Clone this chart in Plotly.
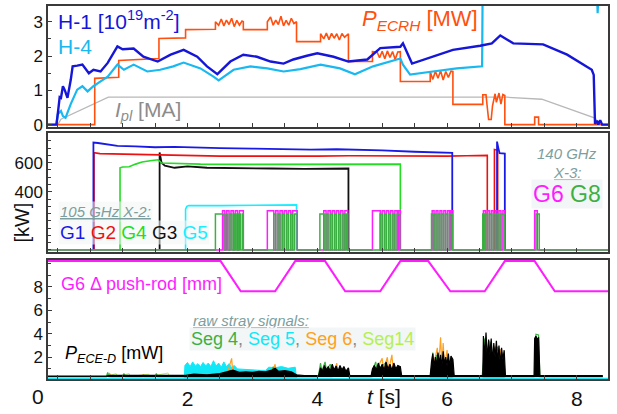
import plotly.graph_objects as go

# ---------------- data: top panel ----------------
h1_t = [-0.15, -0.02, 0.00, 0.03, 0.05, 0.08, 0.11, 0.15, 0.20, 0.23, 0.30, 0.38, 0.48, 0.55, 0.66, 0.77, 0.92, 1.00,
        1.17, 1.32, 1.54, 1.74, 1.94, 2.15, 2.30, 2.46, 2.66, 2.86, 3.07, 3.28, 3.48, 3.63, 3.84, 4.00, 4.25, 4.48,
        4.77, 4.97, 5.28, 5.32, 5.46, 5.78, 6.09, 6.51, 6.69, 6.82, 7.02, 7.48, 7.85, 8.23, 8.26, 8.28, 8.31, 8.33,
        8.36, 8.39, 8.48]
h1_v = [0.0, 0.0, 0.3, 0.8, 0.78, 1.12, 1.0, 0.78, 1.3, 1.7, 1.72, 1.75, 1.5, 1.6, 1.55, 1.8, 2.28, 2.2,
        2.22, 1.98, 1.84, 2.04, 2.18, 1.98, 1.7, 1.47, 1.84, 2.04, 1.98, 1.84, 1.78, 1.9, 2.01, 2.08, 1.98, 1.84,
        1.9, 2.23, 2.27, 2.37, 1.78, 1.98, 2.18, 2.3, 2.37, 2.6, 2.37, 2.34, 2.04, 1.6, 1.45, 0.02, 0.12, 0.0,
        0.13, 0.0, 0.0]

h4_t = [-0.02, 0.00, 0.05, 0.08, 0.12, 0.20, 0.30, 0.38, 0.46, 0.55, 0.66, 0.77, 0.92, 1.02, 1.17, 1.38, 1.58,
        1.78, 1.94, 2.20, 2.40, 2.48, 2.71, 2.97, 3.23, 3.48, 3.74, 4.05, 4.35, 4.58, 4.86, 5.12, 5.28, 5.32, 5.43,
        5.78, 6.15, 6.54, 6.55, 8.30, 8.32, 8.35, 8.48]
h4_v = [0.0, 0.3, 0.4, 0.25, 0.2, 0.6, 1.02, 1.12, 0.97, 1.12, 1.26, 1.4, 1.75, 1.6, 1.75, 1.55, 1.6,
        1.7, 1.81, 1.64, 1.4, 1.29, 1.6, 1.7, 1.64, 1.55, 1.62, 1.75, 1.64, 1.47, 1.7, 1.84, 1.93, 1.75, 1.46,
        1.55, 1.64, 1.7, 4.5, 4.5, 3.25, 4.5, 4.5]

ipl_t = [0.00, 0.05, 0.78, 6.92, 7.46, 8.28, 8.35]
ipl_v = [0.0, 0.16, 0.80, 0.80, 0.74, 0.19, 0.0]

pecrh_t = [-0.15, 0.57, 0.57, 0.94, 0.94, 1.40, 1.56, 1.56, 1.97, 1.97, 2.43, 2.43,
           2.48, 2.52, 2.56, 2.60, 2.64, 2.68, 2.72, 2.76, 2.80, 2.84, 2.86, 2.86,
           3.23, 3.23, 3.28, 3.32, 3.36, 3.40, 3.44, 3.48, 3.52, 3.56, 3.60, 3.64, 3.68, 3.68,
           4.05, 4.05, 4.10, 4.14, 4.18, 4.22, 4.26, 4.30, 4.34, 4.38, 4.42, 4.48, 4.48,
           4.85, 4.85, 4.92, 4.96, 5.00, 5.04, 5.08, 5.12, 5.16, 5.20, 5.24, 5.28, 5.28,
           5.74, 5.74, 5.78, 5.82, 5.86, 5.90, 5.94, 5.98, 6.02, 6.06, 6.09, 6.09,
           6.55, 6.55, 6.60, 6.62, 6.64, 6.68, 6.70, 6.74, 6.76, 6.80, 6.83, 6.86, 6.89, 6.89,
           7.35, 7.35, 7.41, 7.41, 8.48]
pecrh_v = [0.0, 0.0, 1.35, 1.38, 1.87, 1.93, 1.93, 2.51, 2.53, 2.77, 2.78, 3.00,
           2.90, 3.08, 2.88, 3.05, 2.92, 3.10, 2.86, 3.04, 2.90, 3.02, 3.00, 2.77,
           2.77, 3.00, 3.14, 2.90, 3.05, 2.92, 3.16, 2.88, 3.04, 2.90, 3.10, 2.95, 3.00, 2.42,
           2.42, 2.65, 2.50, 2.67, 2.48, 2.66, 2.52, 2.65, 2.47, 2.66, 2.55, 2.65, 1.84,
           1.84, 2.13, 2.12, 1.95, 2.14, 1.92, 2.15, 1.96, 2.13, 1.90, 2.12, 2.13, 1.26,
           1.26, 1.55, 1.32, 1.56, 1.35, 1.57, 1.30, 1.55, 1.38, 1.56, 1.55, 0.59,
           0.59, 0.87, 0.87, 0.50, 0.15, 0.15, 0.55, 0.90, 0.65, 0.92, 0.60, 0.88, 0.85, 0.0,
           0.0, 0.22, 0.22, 0.0, 0.0]

# ---------------- data: middle panel (kW) ----------------
g1_t = [0.55, 0.55, 0.62, 0.75, 0.92, 1.20, 1.50, 1.80, 2.10, 2.50, 3.00, 3.50, 3.90, 4.30, 4.70, 5.00, 5.50, 6.08, 6.08,
        None, 6.77, 6.77, 6.79, 6.81, 6.89, 6.89]
g1_v = [0, 738, 735, 728, 715, 712, 706, 708, 703, 700, 697, 693, 690, 692, 690, 685, 675, 668, 0,
        None, 0, 745, 700, 665, 662, 0]
g2_t = [0.56, 0.56, 0.65, 0.90, 1.30, 1.60, 2.00, 2.50, 3.00, 3.50, 4.00, 4.50, 5.00, 5.50, 6.00, 6.30, 6.62, 6.62,
        None, 6.73, 6.73, 6.78, 6.78]
g2_v = [0, 668, 662, 660, 655, 650, 648, 645, 645, 643, 645, 648, 646, 644, 645, 648, 650, 0,
        None, 0, 690, 685, 0]
g4_t = [0.96, 0.96, 1.00, 1.10, 1.20, 1.30, 1.45, 1.55, 1.60, 1.80, 2.20, 2.80, 3.50, 4.20, 4.80, 5.28, 5.28]
g4_v = [0, 565, 570, 572, 590, 605, 615, 620, 598, 595, 590, 588, 588, 590, 590, 590, 0]
g3_t = [1.57, 1.57, 1.60, 1.65, 1.80, 2.00, 2.30, 2.80, 3.30, 3.80, 4.20, 4.48, 4.48]
g3_v = [0, 670, 600, 580, 565, 575, 565, 560, 560, 558, 560, 560, 0]
g5_t = [1.97, 1.97, 1.99, 2.02, 2.50, 3.00, 3.50, 3.68, 3.68]
g5_v = [0, 280, 300, 305, 305, 308, 310, 310, 0]

g6_level = 270
g6_on = [2.54, 2.605, 2.67, 2.735, 2.80, 3.23, 3.36, 3.425, 3.49, 3.555, 3.62, 4.10, 4.165, 4.23, 4.295, 4.36, 4.425,
         4.85, 5.00, 5.065, 5.13, 5.195, 5.25, 5.77, 5.83, 5.89, 5.95, 6.01, 6.06, 6.56, 6.62, 6.68, 6.74, 6.80, 6.86,
         7.35]
g6_off = [2.575, 2.64, 2.705, 2.77, 2.86, 3.33, 3.395, 3.46, 3.525, 3.59, 3.69, 4.135, 4.20, 4.265, 4.33, 4.395, 4.47,
          4.97, 5.035, 5.10, 5.165, 5.23, 5.28, 5.80, 5.86, 5.92, 5.98, 6.04, 6.09, 6.59, 6.65, 6.71, 6.77, 6.83, 6.89,
          7.39]
g8_level = 248
g8_on = [2.43, 2.59, 2.655, 2.72, 2.785, 2.845, 3.33, 3.395, 3.46, 3.525, 3.59, 3.65, 4.04, 4.135, 4.20, 4.265, 4.33,
         4.395, 4.45, 4.97, 5.035, 5.10, 5.165, 5.23, 5.76, 5.80, 5.86, 5.92, 5.98, 6.04, 6.55, 6.59, 6.65, 6.71, 6.77,
         6.83, 7.37]
g8_off = [2.56, 2.62, 2.685, 2.75, 2.815, 2.86, 3.36, 3.425, 3.49, 3.555, 3.62, 3.69, 4.105, 4.165, 4.23, 4.295, 4.36,
          4.425, 4.47, 5.00, 5.065, 5.13, 5.195, 5.27, 5.79, 5.83, 5.89, 5.95, 6.01, 6.08, 6.58, 6.62, 6.68, 6.74, 6.80,
          6.88, 7.42]

# ---------------- data: bottom panel ----------------
pr_t = [-0.15, 2.51, 2.82, 3.35, 3.66, 4.12, 4.43, 4.97, 5.28, 5.71, 6.05, 6.58, 6.89, 7.35, 7.66, 8.48]
pr_v = [10.2, 10.2, 7.62, 7.62, 10.2, 10.2, 7.62, 7.62, 10.2, 10.2, 7.62, 7.62, 10.2, 10.2, 7.62, 7.62]

seg5 = [(-0.15, 0.2), (1.95, 0.2), (1.96, 1.3), (2.0, 1.55), (2.04, 1.2), (2.08, 1.6), (2.12, 1.25), (2.16, 1.45),
        (2.2, 1.2), (2.24, 1.55), (2.28, 1.25), (2.32, 1.5), (2.36, 1.2), (2.4, 1.7), (2.44, 1.25), (2.48, 1.5),
        (2.52, 1.15), (2.56, 1.6), (2.6, 1.2), (2.64, 1.45), (2.68, 1.1), (2.72, 1.3), (2.77, 1.0), (2.9, 0.95),
        (3.0, 0.9), (3.1, 0.9), (3.2, 0.85), (3.25, 1.15), (3.35, 1.1), (3.45, 1.2), (3.55, 1.05), (3.66, 1.15),
        (3.68, 0.2), (5.74, 0.2), (5.76, 0.6), (5.85, 0.4), (5.95, 0.6), (6.05, 0.45), (6.09, 0.2), (6.55, 0.2),
        (6.57, 0.6), (6.65, 0.45), (6.75, 0.7), (6.85, 0.5), (6.89, 0.2), (8.48, 0.2)]
seg14 = [(-0.15, 0.35), (0.75, 0.35), (0.9, 0.6), (0.92, 0.35), (1.1, 0.6), (1.12, 0.35), (1.4, 0.55), (1.42, 0.35),
         (1.7, 0.65), (1.72, 0.35), (2.2, 0.55), (2.22, 0.35), (8.4, 0.35)]
seg6 = [(-0.15, 0.35), (0.75, 0.35), (0.8, 0.6), (0.82, 0.35), (1.3, 0.35), (1.32, 0.55), (1.34, 0.35), (2.6, 0.35),
        (2.68, 1.9), (2.7, 0.5), (3.3, 0.6), (3.35, 1.4), (3.37, 0.6), (3.68, 0.35), (4.23, 0.35), (4.25, 0.5),
        (4.3, 1.5), (4.32, 0.6), (4.48, 0.35), (4.85, 0.35), (4.9, 0.8), (5.0, 1.9), (5.02, 0.9), (5.08, 2.0),
        (5.1, 0.9), (5.15, 2.2), (5.17, 0.8), (5.28, 0.35), (5.76, 0.35), (5.78, 1.0), (5.85, 2.8), (5.87, 1.2),
        (5.9, 3.7), (5.92, 1.3), (5.94, 3.2), (5.96, 1.2), (6.0, 2.6), (6.02, 1.0), (6.09, 0.35), (6.56, 0.35),
        (6.58, 1.5), (6.65, 3.4), (6.67, 1.6), (6.74, 2.9), (6.76, 1.3), (6.82, 2.7), (6.84, 1.2), (6.89, 0.35),
        (8.4, 0.35)]
seg4 = [(-0.15, 0.35), (0.75, 0.35), (0.77, 0.7), (0.79, 0.35), (1.0, 0.35), (1.02, 0.6), (1.04, 0.35), (1.5, 0.35),
        (1.52, 0.6), (1.54, 0.35), (3.28, 0.35), (3.3, 0.7), (3.32, 1.2), (3.34, 0.7), (3.68, 0.35), (4.0, 0.35),
        (4.02, 0.5), (4.05, 1.5), (4.07, 0.8), (4.12, 1.6), (4.14, 0.9), (4.2, 1.4), (4.22, 0.8), (4.48, 0.35),
        (4.83, 0.35), (4.85, 0.8), (4.9, 1.6), (4.92, 0.9), (5.05, 1.5), (5.07, 0.9), (5.28, 0.35), (5.74, 0.35),
        (5.76, 1.0), (5.78, 2.4), (5.8, 1.0), (5.84, 2.2), (5.86, 1.1), (6.02, 1.8), (6.04, 1.0), (6.09, 0.35),
        (6.54, 0.35), (6.56, 1.5), (6.58, 3.6), (6.6, 1.5), (6.68, 3.3), (6.7, 1.4), (6.78, 2.9), (6.8, 1.2),
        (6.89, 0.35), (7.34, 0.35), (7.35, 0.4), (7.37, 3.95), (7.41, 3.9), (7.43, 0.35), (8.4, 0.35)]
ece = [(-0.15, 0.38), (0.75, 0.38), (0.8, 0.45), (1.2, 0.42), (1.6, 0.45), (1.97, 0.45), (2.1, 0.55), (2.3, 0.5),
       (2.5, 0.6), (2.6, 0.75), (2.7, 0.9), (2.8, 0.7), (2.9, 0.75), (3.0, 0.7), (3.1, 0.8), (3.2, 0.75), (3.3, 0.9),
       (3.35, 1.05), (3.4, 0.8), (3.5, 0.85), (3.6, 0.75), (3.68, 0.5), (3.8, 0.42), (4.0, 0.42),
       (4.02, 0.42), (4.05, 1.1), (4.08, 0.8), (4.11, 1.3), (4.14, 0.9), (4.17, 1.2), (4.20, 0.8), (4.23, 1.4),
       (4.26, 0.9), (4.29, 1.25), (4.32, 0.8), (4.35, 1.3), (4.38, 0.9), (4.41, 1.2), (4.44, 0.8), (4.48, 1.1),
       (4.50, 0.42), (4.83, 0.42), (4.85, 1.0), (4.88, 1.3), (4.91, 0.9), (4.94, 1.5), (4.97, 1.0), (5.00, 1.4),
       (5.03, 0.9), (5.06, 1.6), (5.09, 1.0), (5.12, 1.4), (5.15, 0.9), (5.18, 1.5), (5.21, 1.0), (5.24, 1.3),
       (5.28, 1.2), (5.30, 0.42), (5.74, 0.42), (5.76, 1.6), (5.78, 2.3), (5.80, 1.2), (5.82, 2.0), (5.84, 1.3),
       (5.86, 2.4), (5.88, 1.5), (5.90, 2.2), (5.92, 1.2), (5.94, 2.5), (5.96, 1.4), (5.98, 2.0), (6.00, 1.3),
       (6.02, 2.3), (6.04, 1.2), (6.06, 2.1), (6.09, 1.8), (6.11, 0.42), (6.55, 0.42), (6.56, 3.8), (6.58, 2.0),
       (6.60, 4.1), (6.62, 1.8), (6.64, 3.5), (6.66, 2.2), (6.68, 3.6), (6.70, 1.6), (6.72, 3.2), (6.74, 2.0),
       (6.76, 3.4), (6.78, 1.5), (6.80, 3.0), (6.82, 1.4), (6.84, 2.8), (6.86, 1.8), (6.88, 2.6), (6.90, 0.42),
       (7.34, 0.42), (7.35, 3.6), (7.37, 3.8), (7.39, 3.5), (7.41, 3.7), (7.43, 0.42), (8.40, 0.42)]
ece_floor = 0.32

# ---------------- figure ----------------
XR = [-0.15, 8.48]
C_H1, C_H4, C_EC, C_IP = "#1616d8", "#1ab8f0", "#ff5010", "#b8b8b8"
C_G1, C_G2, C_G4, C_G3, C_G5 = "#1a1ae6", "#ee1111", "#22dd22", "#111111", "#18eeff"
C_G6, C_G8 = "#ff1cff", "#3cb043"
C_S4, C_S5, C_S6, C_S14 = "#3cb043", "#10e8f8", "#ffa020", "#b4f050"
C_NOTE = "#7d9e9e"

fig = go.Figure()


def line(x, y, color, width, xa, ya, **kw):
    fig.add_trace(go.Scatter(x=x, y=y, mode="lines", line=dict(color=color, width=width),
                             xaxis=xa, yaxis=ya, hoverinfo="skip", **kw))


def pulses(on, off, level):
    xs, ys = [XR[0]], [0]
    for a, b in zip(on, off):
        xs += [a, a, b, b]
        ys += [0, level, level, 0]
    xs.append(XR[1])
    ys.append(0)
    return xs, ys


def unzip(pairs):
    return [p[0] for p in pairs], [p[1] for p in pairs]


# top panel
line(ipl_t, ipl_v, C_IP, 1.3, "x", "y")
line(pecrh_t, pecrh_v, C_EC, 1.6, "x", "y")
line(h4_t, h4_v, C_H4, 2.2, "x", "y")
line(h1_t, h1_v, C_H1, 2.4, "x", "y")

# middle panel
line(g5_t, g5_v, C_G5, 1.6, "x2", "y2")
line(g3_t, g3_v, C_G3, 1.8, "x2", "y2")
line(g4_t, g4_v, C_G4, 1.6, "x2", "y2")
line(g2_t, g2_v, C_G2, 1.6, "x2", "y2")
line(g1_t, g1_v, C_G1, 1.8, "x2", "y2")
x6, y6 = pulses(g6_on, g6_off, g6_level)
line(x6, y6, C_G6, 1.5, "x2", "y2")
x8, y8 = pulses(g8_on, g8_off, g8_level)
line(x8, y8, C_G8, 1.5, "x2", "y2")

# bottom panel
line(pr_t, pr_v, C_G6, 2.0, "x3", "y3")
t5, v5 = unzip(seg5)
line(t5, v5, C_S5, 1.0, "x3", "y3", fill="tozeroy", fillcolor=C_S5)
t14, v14 = unzip(seg14)
line(t14, v14, C_S14, 1.0, "x3", "y3")
t6, v6 = unzip(seg6)
line(t6, v6, C_S6, 1.2, "x3", "y3")
t4, v4 = unzip(seg4)
line(t4, v4, C_S4, 1.2, "x3", "y3")
te, ve = unzip(ece)
line([te[0], te[-1]], [ece_floor, ece_floor], "rgba(0,0,0,0)", 0, "x3", "y3")
line(te, ve, "#000000", 1.2, "x3", "y3", fill="tonexty", fillcolor="#000000")

AX = dict(showline=True, mirror=True, linecolor="#3a3a3a", linewidth=1.5, ticks="inside", ticklen=4,
          tickcolor="#3a3a3a", showgrid=False, zeroline=False)
FONT = "Liberation Sans, Arial, sans-serif"

fig.update_layout(
    width=617, height=414, margin=dict(l=48, r=9, t=4, b=34),
    showlegend=False, plot_bgcolor="white", paper_bgcolor="white",
    font=dict(family=FONT, color="#111111"),
    xaxis=dict(AX, domain=[0, 1], anchor="y", range=XR, dtick=0.5, tick0=0, showticklabels=False),
    xaxis2=dict(AX, domain=[0, 1], anchor="y2", range=XR, dtick=0.5, tick0=0, showticklabels=False),
    xaxis3=dict(AX, domain=[0, 1], anchor="y3", range=XR, tickvals=[2, 4, 6, 8],
                tickfont=dict(size=21, color="#111111"),
                minor=dict(dtick=0.5, tick0=0, ticks="inside", ticklen=4, tickcolor="#3a3a3a")),
    yaxis=dict(AX, domain=[0.6755, 1.0], anchor="x", range=[-0.07, 3.46], tickvals=[0, 1, 2, 3],
               tickfont=dict(size=17), minor=dict(dtick=0.5, ticks="inside", ticklen=3, tickcolor="#3a3a3a")),
    yaxis2=dict(AX, domain=[0.3404, 0.6596], anchor="x2", range=[-14, 804], tickvals=[400, 600],
                tickfont=dict(size=17), minor=dict(dtick=50, ticks="inside", ticklen=3, tickcolor="#3a3a3a")),
    yaxis3=dict(AX, domain=[0, 0.319], anchor="x3", range=[0.14, 10.29], tickvals=[2, 4, 6, 8],
                tickfont=dict(size=17), minor=dict(dtick=1, ticks="inside", ticklen=3, tickcolor="#3a3a3a")),
)


def note(text, x, y, xr, yr, size, color, xanchor="left", bg=None, **kw):
    fig.add_annotation(text=text, x=x, y=y, xref=xr, yref=yr, showarrow=False, xanchor=xanchor,
                       yanchor="middle", font=dict(family=FONT, size=size, color=color),
                       bgcolor=bg, borderpad=1, **kw)


BG = "rgba(242,245,245,0.55)"
# top
note("H-1 [10<sup>19</sup>m<sup>-2</sup>]", -0.03, 3.04, "x", "y", 21, C_H1)
note("H-4", -0.03, 2.28, "x", "y", 21, C_H4)
note("<i>P</i><sub><i>ECRH</i></sub> [MW]", 4.66, 3.04, "x", "y", 22, C_EC)
note("<i>I</i><sub><i>pl</i></sub> [MA]", 0.85, 0.39, "x", "y", 21, "#8c8c8c")
# middle
note("<i><u>105 GHz X-2:</u></i>", 0.01, 266, "x2", "y2", 15, C_NOTE, bg=BG)
note(f"<span style='color:{C_G1}'>G1</span> <span style='color:{C_G2}'>G2</span> "
     f"<span style='color:{C_G4}'>G4</span> <span style='color:{C_G3}'>G3</span> "
     f"<span style='color:{C_G5}'>G5</span>", 0.0, 123, "x2", "y2", 19, "#000", bg=BG)
note("<i>140 GHz</i>", 7.85, 661, "x2", "y2", 15, C_NOTE, xanchor="center")
note("<i><u>X-3:</u></i>", 7.85, 532, "x2", "y2", 15, C_NOTE, xanchor="center")
note(f"<span style='color:{C_G6}'>G6</span> <span style='color:{C_G8}'>G8</span>", 7.85, 382,
     "x2", "y2", 23, "#000", xanchor="center", bg="rgba(242,245,245,0.9)")
# bottom
note("G6 Δ push-rod [mm]", 0.015, 8.26, "x3", "y3", 18, C_G6)
note("<i><u>raw stray signals:</u></i>", 2.06, 5.13, "x3", "y3", 15, C_NOTE)
note(f"<span style='color:{C_S4}'>Seg 4</span>, <span style='color:{C_S5}'>Seg 5</span>, "
     f"<span style='color:{C_S6}'>Seg 6</span>, <span style='color:{C_S14}'>Seg14</span>",
     2.03, 3.52, "x3", "y3", 18, "#888", bg="rgba(242,245,245,0.9)")
note("<i>P</i><sub><i>ECE-D</i></sub> [mW]", 0.08, 2.26, "x3", "y3", 18, "#000")
# axis texts
note("0", -0.018, -0.048, "paper", "paper", 21, "#111", xanchor="center")
note("<i>t</i> [s]", 5.03, -0.048, "x3", "paper", 21, "#111", xanchor="center")
note("[kW]", -0.046, 0.42, "paper", "paper", 20, "#111", xanchor="center", textangle=-90)

fig.write_html("out.html")
